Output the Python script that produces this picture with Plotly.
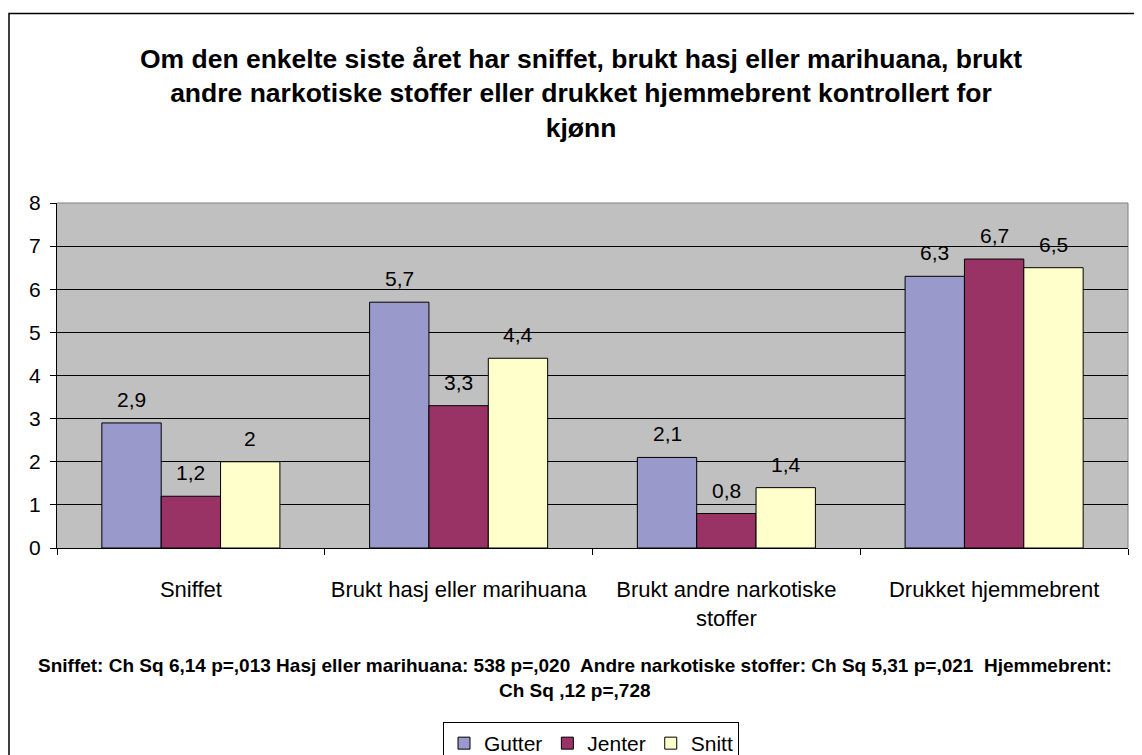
import plotly.graph_objects as go

categories = ["Sniffet", "Brukt hasj eller marihuana", "Brukt andre narkotiske<br>stoffer", "Drukket hjemmebrent"]
series_names = ["Gutter", "Jenter", "Snitt"]
gutter = [2.9, 5.7, 2.1, 6.3]
jenter = [1.2, 3.3, 0.8, 6.7]
snitt = [2.0, 4.4, 1.4, 6.5]
colors = ["#9999CC", "#993366", "#FFFFCC"]
y_ticks = [0, 1, 2, 3, 4, 5, 6, 7, 8]

title_text = ("Om den enkelte siste året har sniffet, brukt hasj eller marihuana, brukt<br>"
              "andre narkotiske stoffer eller drukket hjemmebrent kontrollert for<br>kjønn")
note_line1 = ("Sniffet: Ch Sq 6,14 p=,013 Hasj eller marihuana: 538 p=,020  Andre narkotiske stoffer: "
              "Ch Sq 5,31 p=,021  Hjemmebrent:")
note_line2 = "Ch Sq ,12 p=,728"

FONT = "Liberation Sans, Arial, sans-serif"

def fmt(v):
    s = ("%g" % v)
    return s.replace(".", ",")

fig = go.Figure()
all_series = [gutter, jenter, snitt]
for name, vals, col in zip(series_names, all_series, colors):
    fig.add_trace(go.Bar(
        name=name, x=categories, y=vals,
        marker=dict(color=col, line=dict(color="black", width=1)),
    ))

# page offset (html body margin)
OFF = 8
W, H = 1142 - OFF, 755 - OFF
ml = 57 - OFF
mt = 203 - OFF
mr = W - (1128 - OFF)
mb = H - (548 - OFF)
pw = W - ml - mr
ph = H - mt - mb
bargap = 0.335
cat_w = pw / len(categories)
bar_w = cat_w * (1 - bargap) / 3
offsets = [-bar_w, 0, bar_w]

annotations = []
for vals, off in zip(all_series, offsets):
    for c, v in zip(categories, vals):
        annotations.append(dict(
            x=c, y=v, xref="x", yref="y", text=fmt(v), showarrow=False,
            xshift=off, yanchor="bottom", yshift=10,
            font=dict(family=FONT, size=21, color="black")))

def px_x(p):
    return (p - OFF - ml) / pw

def px_y(p):
    return (H - mb - (p - OFF)) / ph

annotations.append(dict(xref="paper", yref="paper", x=px_x(575), y=px_y(665),
                        text=note_line1, showarrow=False, xanchor="center", yanchor="middle",
                        font=dict(family=FONT, size=19, color="black", weight="bold")))
annotations.append(dict(xref="paper", yref="paper", x=px_x(575), y=px_y(690),
                        text=note_line2, showarrow=False, xanchor="center", yanchor="middle",
                        font=dict(family=FONT, size=19, color="black", weight="bold")))

shapes = [
    # outer chart frame
    dict(type="rect", xref="paper", yref="paper", x0=px_x(9), x1=px_x(1140.5),
         y0=px_y(775), y1=px_y(13.5), line=dict(color="black", width=1.5), layer="below"),
    # plot area border top/right
    dict(type="line", xref="paper", yref="paper", x0=0, x1=1, y0=1, y1=1,
         line=dict(color="#808080", width=1), layer="below"),
    dict(type="line", xref="paper", yref="paper", x0=1, x1=1, y0=0, y1=1,
         line=dict(color="#808080", width=1), layer="below"),
]

fig.update_layout(
    width=W, height=H,
    margin=dict(l=ml, r=mr, t=mt, b=mb, autoexpand=False),
    paper_bgcolor="white", plot_bgcolor="#C0C0C0",
    barmode="group", bargap=bargap, bargroupgap=0,
    font=dict(family=FONT, size=21, color="black"),
    title=dict(text=title_text, x=px_x(581), xref="paper", xanchor="center",
               y=1 - 60 / H, yanchor="top",
               font=dict(family=FONT, size=26.5, color="black", weight="bold")),
    xaxis=dict(showgrid=False, showline=True, linecolor="black", linewidth=1,
               ticks="outside", tickson="boundaries", ticklen=6, tickcolor="black",
               tickfont=dict(family=FONT, size=22), ticklabelstandoff=22),
    yaxis=dict(range=[0, 8], tickvals=y_ticks, showgrid=True, gridcolor="black", gridwidth=1,
               showline=True, linecolor="black", linewidth=1, zeroline=False,
               ticks="outside", ticklen=6, tickcolor="black",
               tickfont=dict(family=FONT, size=21), ticklabelstandoff=5),
    legend=dict(orientation="h", x=px_x(591), xanchor="center", y=px_y(722), yanchor="top",
                bordercolor="black", borderwidth=1, bgcolor="white",
                font=dict(family=FONT, size=21), itemwidth=30, tracegroupgap=0),
    annotations=annotations,
    shapes=shapes,
    showlegend=True,
)

fig.write_html("out.html")
